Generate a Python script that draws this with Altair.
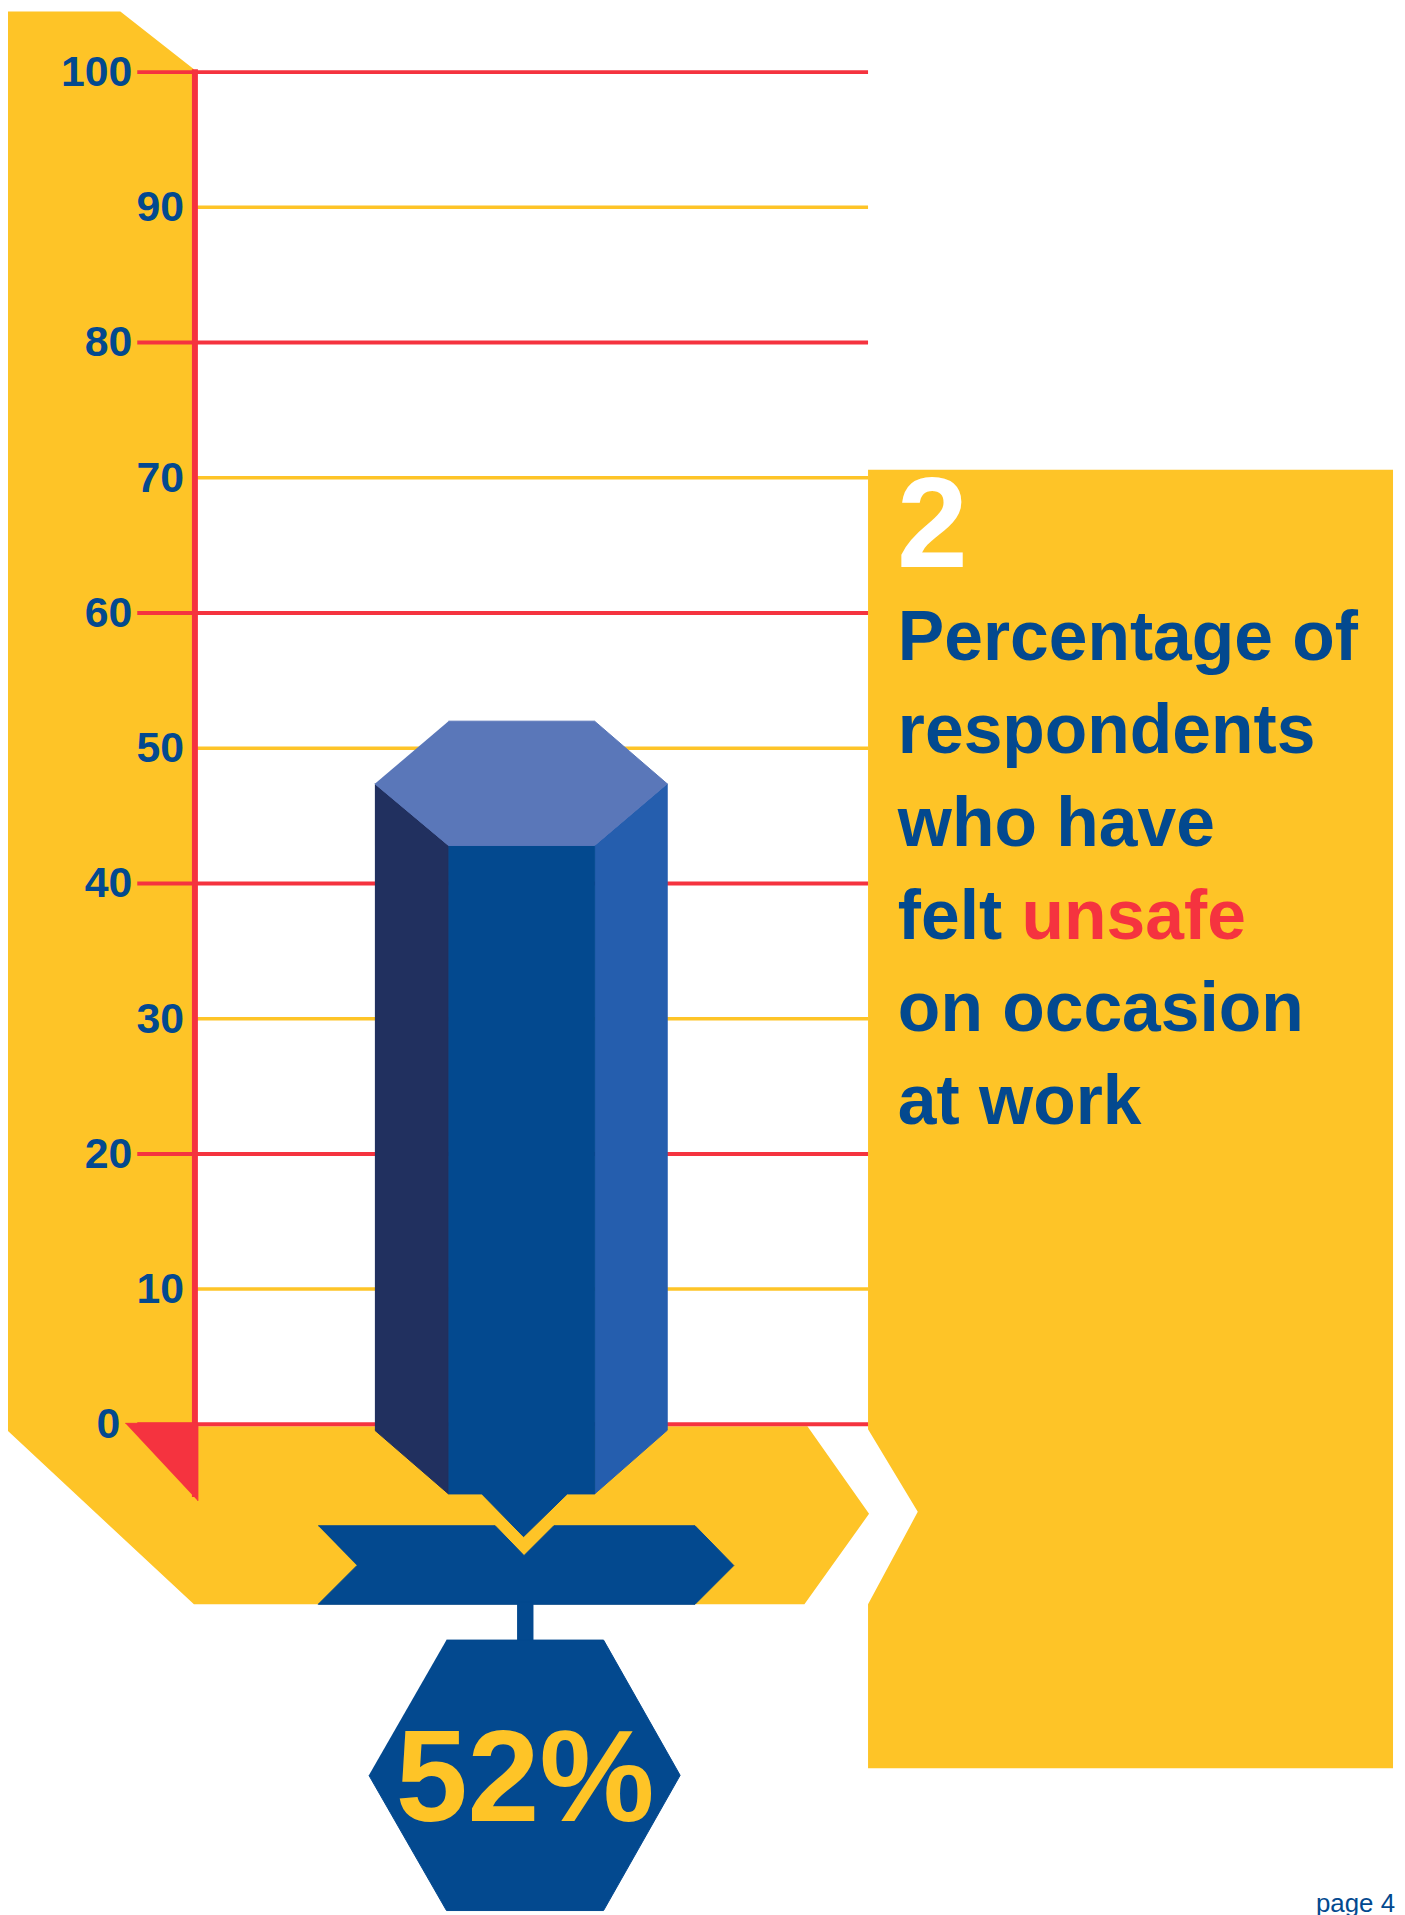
import altair as alt
import pandas as pd

# ---------------- data ----------------
TICKS = [0, 10, 20, 30, 40, 50, 60, 70, 80, 90, 100]
VALUE = 52
VALUE_LABEL = "52%"
CHART_NUMBER = "2"
TITLE_LINES = ["Percentage of", "respondents", "who have", "felt", "on occasion", "at work"]
HIGHLIGHT_WORD = "unsafe"
HIGHLIGHT_LINE = 3
PAGE_LABEL = "page 4"

# ---------------- colours ----------------
YELLOW = "#FEC427"
RED = "#F5333F"
BLUE = "#03498F"
TOP = "#5A77B9"
LEFT = "#21305F"
RIGHT = "#255EAE"
WHITE = "#FFFFFF"

SANS = "Liberation Sans, Arial, Helvetica, sans-serif"

# ---------------- layout (page pixels) ----------------
W, H = 1397, 1907
MARGIN = 8
ZERO_Y = 1427          # page y of value 0
PX_PER_UNIT = 13.6     # pixels per percentage point
Y_TOP = (ZERO_Y - MARGIN) / PX_PER_UNIT
Y_BOT = (ZERO_Y - MARGIN - H) / PX_PER_UNIT

xs = alt.Scale(domain=[0, W], range=[0, W], nice=False, zero=False)
ys = alt.Scale(domain=[Y_BOT, Y_TOP], nice=False, zero=False)


def X(px):
    return px - MARGIN


def V(py):
    return (ZERO_Y - py) / PX_PER_UNIT


def poly(points, color, stroke=True):
    df = pd.DataFrame({
        "i": list(range(len(points))),
        "x": [X(p[0]) for p in points],
        "y": [V(p[1]) for p in points],
    })
    return alt.Chart(df).mark_line(
        filled=True, fill=color, stroke=color if stroke else None,
        strokeWidth=1 if stroke else 0, interpolate="linear"
    ).encode(
        x=alt.X("x:Q", scale=xs, axis=None),
        y=alt.Y("y:Q", scale=ys, axis=None),
        order=alt.Order("i:Q"),
    )


def text_layer(df, **kw):
    return alt.Chart(df).mark_text(**kw).encode(
        x=alt.X("x:Q", scale=xs, axis=None),
        y=alt.Y("y:Q", scale=ys, axis=None),
        text="text:N")


AXIS_X = 196
GRID_END = 873
layers = []

# yellow panels
layers.append(poly([(5, 6), (121, 6), (195, 64), (195, 1429), (812, 1429), (874, 1517),
                    (809, 1608), (195, 1608), (5, 1431)], YELLOW, stroke=False))
layers.append(poly([(873, 467), (1401, 467), (1401, 1773), (873, 1773), (873, 1608),
                    (923, 1515), (873, 1432)], YELLOW, stroke=False))

# gridlines
grid = pd.DataFrame({
    "tick": TICKS,
    "kind": ["major" if t % 20 == 0 else "minor" for t in TICKS],
})
grid["x1"] = [X(138) if k == "major" else X(AXIS_X) for k in grid["kind"]]
grid["x2"] = X(GRID_END)
layers.append(alt.Chart(grid).mark_rule().encode(
    x=alt.X("x1:Q", scale=xs, axis=None), x2="x2:Q",
    y=alt.Y("tick:Q", scale=ys, axis=None),
    color=alt.Color("kind:N", scale=alt.Scale(domain=["major", "minor"], range=[RED, YELLOW]), legend=None),
    strokeWidth=alt.StrokeWidth("kind:N", scale=alt.Scale(domain=["major", "minor"], range=[4, 3.5]), legend=None),
))

# axis line and red triangle
axis_df = pd.DataFrame({"x": [X(AXIS_X)], "y1": [V(64)], "y2": [V(1500)]})
layers.append(alt.Chart(axis_df).mark_rule(color=RED, strokeWidth=6).encode(
    x=alt.X("x:Q", scale=xs, axis=None),
    y=alt.Y("y1:Q", scale=ys, axis=None), y2="y2:Q"))
layers.append(poly([(126, 1426), (199, 1426), (199, 1504)], RED))

# tick labels
lab = grid.copy()
lab["x"] = [X(121) if t == 0 else (X(133) if k == "major" else X(185))
            for t, k in zip(lab["tick"], lab["kind"])]
lab["y"] = lab["tick"]
lab["text"] = [str(t) for t in lab["tick"]]
layers.append(text_layer(lab, align="right", baseline="middle", font=SANS, fontWeight="bold",
                         fontSize=43, color=BLUE, dy=1))

# hexagonal prism bar (top back edge at VALUE)
T = ZERO_Y - VALUE * PX_PER_UNIT
D1, D2 = 63, 125
B1, B2 = ZERO_Y + 6, ZERO_Y + 70
L0, L1, R1, R0 = 377, 451, 598, 671
MID = (L1 + R1) / 2
layers.append(poly([(L0, T + D1), (L1, T + D2), (L1, B2), (L0, B1)], LEFT))
layers.append(poly([(R1, T + D2), (R0, T + D1), (R0, B1), (R1, B2)], RIGHT))
layers.append(poly([(L1, T + D2), (R1, T + D2), (R1, B2), (MID + 46, B2), (MID + 2, B2 + 43),
                    (MID - 40, B2), (L1, B2)], BLUE))
layers.append(poly([(L1, T), (R1, T), (R0, T + D1), (R1, T + D2), (L1, T + D2), (L0, T + D1)], TOP))

# ribbon, stem and hexagon
layers.append(poly([(320, 1529), (498, 1529), (527, 1559), (557, 1529), (699, 1529), (738, 1569),
                    (699, 1608), (320, 1608), (359, 1569)], BLUE))
layers.append(poly([(520, 1606), (536, 1606), (536, 1646), (520, 1646)], BLUE))
layers.append(poly([(449, 1644), (607, 1644), (684, 1780), (607, 1916), (449, 1916), (371, 1780)], BLUE))

# value label
layers.append(text_layer(pd.DataFrame({"x": [X(528)], "y": [V(1826)], "text": [VALUE_LABEL]}),
                         align="center", baseline="alphabetic", font=SANS, fontWeight="bold",
                         fontSize=130, color=YELLOW))

# chart number
layers.append(text_layer(pd.DataFrame({"x": [X(902)], "y": [V(565)], "text": [CHART_NUMBER]}),
                         align="left", baseline="alphabetic", font=SANS, fontWeight="bold",
                         fontSize=128, color=WHITE))

# title lines
FS = 70
FIRST_BASE, LINE_STEP = 658.5, 93.3
TX = 903
tdf = pd.DataFrame({
    "x": [X(TX)] * len(TITLE_LINES),
    "y": [V(FIRST_BASE + i * LINE_STEP) for i in range(len(TITLE_LINES))],
    "text": TITLE_LINES,
})
layers.append(text_layer(tdf, align="left", baseline="alphabetic", font=SANS, fontWeight="bold",
                         fontSize=FS, color=BLUE))

# "felt " advance width in Arial/Liberation Sans Bold em units
FELT_EM = 0.333 + 0.556 + 0.278 + 0.333 + 0.278
layers.append(text_layer(pd.DataFrame({"x": [X(TX + FELT_EM * FS)],
                                       "y": [V(FIRST_BASE + HIGHLIGHT_LINE * LINE_STEP)],
                                       "text": [HIGHLIGHT_WORD]}),
                         align="left", baseline="alphabetic", font=SANS, fontWeight="bold",
                         fontSize=FS, color=RED))

# page label
layers.append(text_layer(pd.DataFrame({"x": [X(1403)], "y": [V(1917)], "text": [PAGE_LABEL]}),
                         align="right", baseline="alphabetic", font=SANS, fontSize=26, color=BLUE))

chart = alt.layer(*layers).properties(
    width=W, height=H, padding=0, background="white",
    autosize=alt.AutoSizeParams(type="none"),
).configure_view(strokeWidth=0)

chart.save("out.html", embed_options={"renderer": "svg", "actions": False})
